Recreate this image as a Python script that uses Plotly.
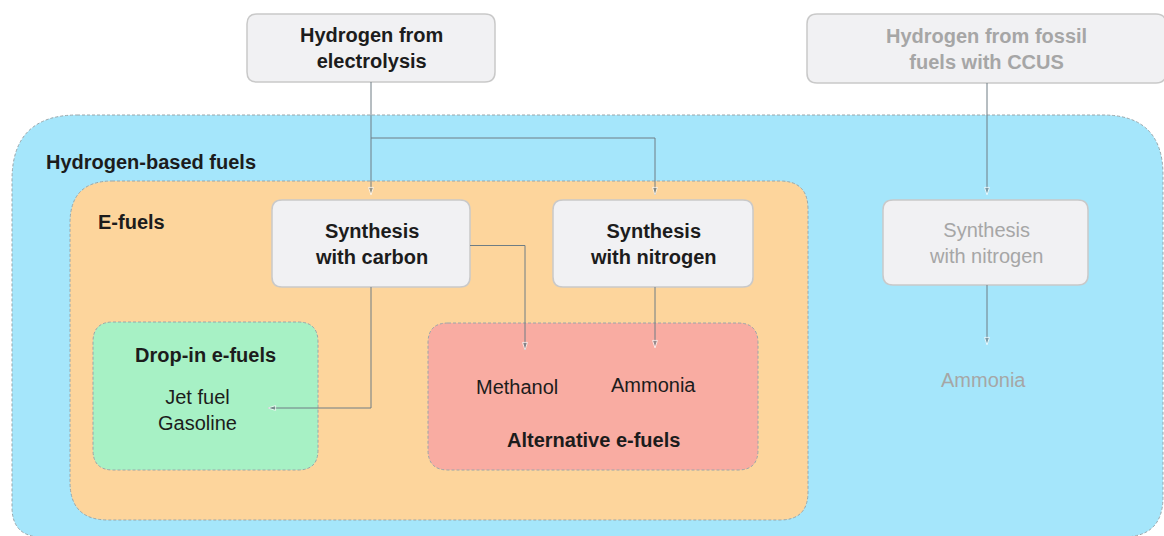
import plotly.graph_objects as go

# node texts
source_labels = ["Hydrogen from<br>electrolysis", "Hydrogen from fossil<br>fuels with CCUS"]
process_labels = ["Synthesis<br>with carbon", "Synthesis<br>with nitrogen", "Synthesis<br>with nitrogen"]
group_labels = ["Hydrogen-based fuels", "E-fuels", "Drop-in e-fuels", "Alternative e-fuels"]
product_labels = ["Jet fuel<br>Gasoline", "Methanol", "Ammonia", "Ammonia"]

W, H = 1164, 536
FONT = "Liberation Sans, Arial, sans-serif"
DARK = "#1c1c1c"
GREY_TXT = "#a6a6a6"
LINE = "#6e7d84"

# geometry: (x0, y0, x1, y1) in pixel units, y downward
regions = {
    "blue": ((12, 115, 1163, 537), (65, 60, 40, 30), "#a5e6fb"),
    "orange": ((70, 181, 808, 520), (42, 28, 28, 38), "#fdd59c"),
    "green": ((93, 322, 318, 470), (20, 20, 20, 20), "#a7f1c5"),
    "red": ((428, 323, 758, 470), (20, 20, 20, 20), "#f9aca2"),
}
src_boxes = [(247, 14, 495, 82), (807, 14, 1166, 83)]
proc_boxes = [(272, 200, 470, 287), (553, 200, 753, 287), (883, 200, 1088, 285)]


def rounded(x0, y0, x1, y1, r):
    tl, tr, br, bl = r
    return (f"M{x0+tl},{y0} L{x1-tr},{y0} Q{x1},{y0} {x1},{y0+tr} "
            f"L{x1},{y1-br} Q{x1},{y1} {x1-br},{y1} L{x0+bl},{y1} "
            f"Q{x0},{y1} {x0},{y1-bl} L{x0},{y0+tl} Q{x0},{y0} {x0+tl},{y0} Z")


def cx(b):
    return (b[0] + b[2]) / 2


def cy(b):
    return (b[1] + b[3]) / 2


shapes = []
for name, (b, r, col) in regions.items():
    shapes.append(dict(type="path", path=rounded(*b, r), fillcolor=col,
                       line=dict(color="#9aa6aa", width=1, dash="3px,2px"), layer="below"))
for b in src_boxes + proc_boxes:
    shapes.append(dict(type="path", path=rounded(*b, (10, 10, 10, 10)), fillcolor="#f1f1f3",
                       line=dict(color="#c9c9c9", width=1.5), layer="below"))

fig = go.Figure()

# connectors built from box geometry
e, f = src_boxes
sc, sn, sn2 = proc_boxes
green, red = regions["green"][0], regions["red"][0]
split_y = 138
routes = [
    ([cx(e), cx(e)], [e[3], sc[1] - 5]),
    ([cx(e), 655, 655], [split_y, split_y, sn[1] - 5]),
    ([987, 987], [f[3], sn2[1] - 5]),
    ([sc[2], 525, 525], [cy(sc) + 2, cy(sc) + 2, red[1] + 27]),
    ([655, 655], [sn[3], red[1] + 25]),
    ([cx(sc), cx(sc), 268], [sc[3], 408, 408]),
    ([987, 987], [sn2[3], 345]),
]
for xs, ys in routes:
    fig.add_trace(go.Scatter(
        x=xs, y=ys, mode="lines+markers", hoverinfo="skip", showlegend=False,
        line=dict(color=LINE, width=1),
        marker=dict(size=[0] * (len(xs) - 1) + [8], symbol="arrow", angleref="previous",
                    color=LINE)))

ann = []


def label(x, y, text, size=20, bold=False, color=DARK, xanchor="center"):
    ann.append(dict(x=x, y=y, text=f"<b>{text}</b>" if bold else text, showarrow=False,
                    xanchor=xanchor, yanchor="middle",
                    font=dict(family=FONT, size=size, color=color)))


label(cx(e), cy(e), source_labels[0], bold=True)
label(986, cy(f), source_labels[1], bold=True, color=GREY_TXT)
label(cx(sc), cy(sc), process_labels[0], bold=True)
label(cx(sn), cy(sn), process_labels[1], bold=True)
label(cx(sn2), cy(sn2), process_labels[2], color=GREY_TXT)
label(44, 162, group_labels[0], bold=True, xanchor="left")
label(96, 222, group_labels[1], bold=True, xanchor="left")
label(205, 355, group_labels[2], bold=True)
label(593, 440, group_labels[3], bold=True)
label(197, 410, product_labels[0])
label(517, 387, product_labels[1])
label(653, 385, product_labels[2])
label(983, 380, product_labels[3], color=GREY_TXT)

fig.update_layout(
    width=W, height=H, margin=dict(l=0, r=0, t=0, b=0),
    paper_bgcolor="white", plot_bgcolor="white",
    xaxis=dict(range=[0, W], visible=False, fixedrange=True),
    yaxis=dict(range=[H, 0], visible=False, fixedrange=True),
    shapes=shapes, annotations=ann,
)

# drop the page's default body margin so the figure sits at the window origin
fig.write_html("out.html", config={"displayModeBar": False},
               post_script="document.body.style.margin='0';")
